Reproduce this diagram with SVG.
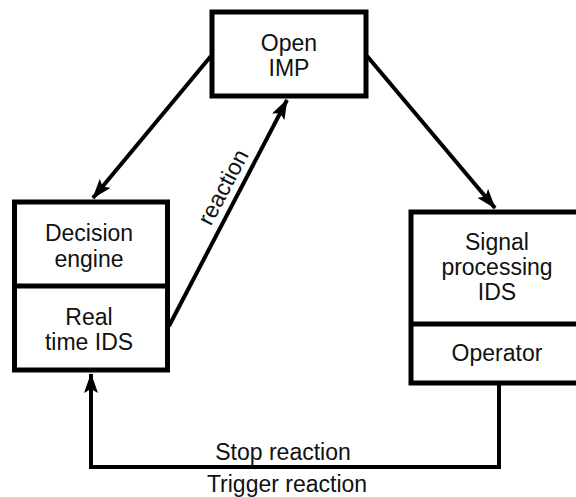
<svg xmlns="http://www.w3.org/2000/svg" width="576" height="497" viewBox="0 0 576 497">
<style>
.box{fill:#fff;stroke:#000;stroke-width:5}
.div{stroke:#000;stroke-width:5}
.t{font-family:"Liberation Sans",Arial,sans-serif;font-size:23px;fill:#111;text-anchor:middle}
.c{fill:none;stroke:#000;stroke-width:4}
</style>
<defs>
<marker id="ah" viewBox="0 0 20 14" refX="19" refY="7" markerWidth="20" markerHeight="14" markerUnits="userSpaceOnUse" orient="auto">
<path d="M0,0 L20,7 L0,14 L4,7 z" fill="#000"/>
</marker>
</defs>
<rect width="576" height="497" fill="#fff"/>
<g id="connectors">
<path class="c" d="M211,56 L93,198" marker-end="url(#ah)"/>
<path class="c" d="M367,56 L495,208" marker-end="url(#ah)"/>
<path class="c" d="M169,326 L287,100" marker-end="url(#ah)"/>
<path class="c" d="M499,385 L499,467 L91,467 L91,374" marker-end="url(#ah)"/>
<text class="t" transform="translate(223,187) rotate(-62)" dy="8">reaction</text>
<text class="t" x="283" y="460">Stop reaction</text>
<text class="t" x="287" y="492">Trigger reaction</text>
</g>
<g id="open-imp">
<rect class="box" x="212" y="12" width="154" height="84"/>
<text class="t" x="289" y="51">Open</text>
<text class="t" x="289" y="76">IMP</text>
</g>
<g id="left-box">
<rect class="box" x="14.5" y="202" width="153" height="168"/>
<line class="div" x1="14.5" y1="286" x2="167.5" y2="286"/>
<text class="t" x="89" y="241">Decision</text>
<text class="t" x="89" y="267">engine</text>
<text class="t" x="89" y="325">Real</text>
<text class="t" x="89" y="350">time IDS</text>
</g>
<g id="right-box">
<rect class="box" x="411" y="212" width="190" height="171"/>
<line class="div" x1="411" y1="324" x2="601" y2="324"/>
<text class="t" x="497" y="250">Signal</text>
<text class="t" x="497" y="275">processing</text>
<text class="t" x="497" y="300">IDS</text>
<text class="t" x="497" y="361">Operator</text>
</g>
</svg>
